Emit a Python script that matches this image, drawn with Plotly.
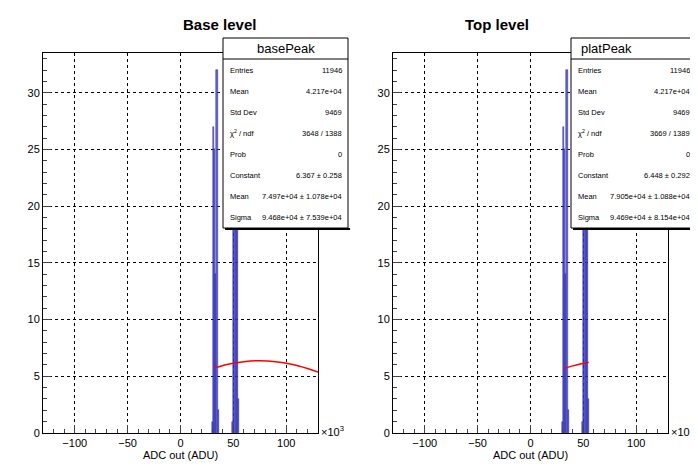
import plotly.graph_objects as go
from plotly.subplots import make_subplots

W, H = 698, 475

# histogram bins (bin centers in ADU, 1e3 wide) and counts
base_x = [30500, 31500, 32500, 33500, 34500, 35500, 49500, 50500, 51500, 52500, 53500, 54500]
base_y = [1, 27, 25, 14, 32, 2, 1, 22, 31, 28, 20, 3]
plat_x = [30500, 31500, 32500, 33500, 34500, 35500, 49500, 50500, 51500, 52500, 53500, 54500]
plat_y = [1, 27, 25, 14, 32, 2, 1, 24, 30, 27, 21, 3]

# gaussian fit curves
base_fit_x = [32000, 45000, 60000, 75000, 90000, 105000, 120000, 130000]
base_fit_y = [5.74, 6.06, 6.29, 6.37, 6.29, 6.06, 5.69, 5.38]
plat_fit_x = [32000, 40000, 48000, 55000]
plat_fit_y = [5.70, 5.92, 6.10, 6.24]

titles = ["<b>Base level</b>", "<b>Top level</b>"]
names = ["basePeak", "platPeak"]
labels = ["Entries", "Mean", "Std Dev", "χ<sup>2</sup> / ndf", "Prob", "Constant", "Mean", "Sigma"]
base_stats = ["11946", "4.217e+04", "9469", "3648 / 1388", "0", "6.367 ± 0.258",
              "7.497e+04 ± 1.078e+04", "9.468e+04 ± 7.539e+04"]
plat_stats = ["11946", "4.217e+04", "9469", "3669 / 1389", "0", "6.448 ± 0.292",
              "7.905e+04 ± 1.088e+04", "9.469e+04 ± 8.154e+04"]

xticks = [-100000, -50000, 0, 50000, 100000]
xtick_text = ["−100", "−50", "0", "50", "100"]

fig = make_subplots(rows=1, cols=2)
font = dict(family="Liberation Sans, Arial", color="black")

data = [(base_x, base_y, base_fit_x, base_fit_y, base_stats),
        (plat_x, plat_y, plat_fit_x, plat_fit_y, plat_stats)]
doms = [(35 / W, 310 / W), (385 / W, 660 / W)]
boxes = [(215, 340), (563, 688)]

for i, (hx, hy, fx, fy, st) in enumerate(data):
    c = i + 1
    fig.add_trace(go.Bar(x=hx, y=hy, width=1000, marker=dict(color="rgba(70,70,200,0.85)",
                         line=dict(color="rgb(40,40,170)", width=0.5))), row=1, col=c)
    fig.add_trace(go.Scatter(x=fx, y=fy, mode="lines", line=dict(color="red", width=1.5, shape="spline")),
                  row=1, col=c)
    fig.update_xaxes(domain=list(doms[i]), range=[-130000, 130000], tickvals=xticks, ticktext=xtick_text,
                     ticks="inside", ticklen=8, minor=dict(ticks="inside", ticklen=4, dtick=10000),
                     showgrid=True, gridcolor="black", griddash="dot", gridwidth=0.7,
                     showline=True, linecolor="black", mirror=True, zeroline=False, automargin=False,
                     title=dict(text="ADC out (ADU)", font=dict(size=11, **font), standoff=2),
                     tickfont=dict(size=11, **font), row=1, col=c)
    fig.update_yaxes(domain=[1 - 425 / H, 1 - 45 / H], range=[0, 33.5], dtick=5,
                     ticks="inside", ticklen=8, minor=dict(ticks="inside", ticklen=4, dtick=1),
                     showgrid=True, gridcolor="black", griddash="dot", gridwidth=0.7,
                     showline=True, linecolor="black", mirror=True, zeroline=False, automargin=False,
                     tickfont=dict(size=11, **font), row=1, col=c)
    x0, x1 = doms[i]
    fig.add_annotation(x=(x0 + x1) / 2, y=1 - 17 / H, xref="paper", yref="paper", text=titles[i],
                       showarrow=False, yanchor="middle", font=dict(size=15, **font))
    fig.add_annotation(x=x1 + 1 / W, y=1 - 423 / H, xref="paper", yref="paper", text="×10<sup>3</sup>",
                       showarrow=False, xanchor="left", yanchor="middle", font=dict(size=11, **font))
    bx0, bx1 = boxes[i]
    fig.add_shape(type="rect", xref="paper", yref="paper", x0=bx0 / W, x1=bx1 / W,
                  y0=1 - 220 / H, y1=1 - 30 / H, fillcolor="white", line=dict(color="black", width=1),
                  layer="above")
    fig.add_shape(type="rect", xref="paper", yref="paper", x0=(bx0 + 2) / W, x1=(bx1 + 2) / W,
                  y0=1 - 222 / H, y1=1 - 220 / H, fillcolor="black", line=dict(width=0), layer="above")
    fig.add_shape(type="line", xref="paper", yref="paper", x0=bx0 / W, x1=bx1 / W,
                  y0=1 - 51 / H, y1=1 - 51 / H, line=dict(color="black", width=1), layer="above")
    fig.add_annotation(x=(bx0 + bx1) / 2 / W, y=1 - 40.5 / H, xref="paper", yref="paper", text=names[i],
                       showarrow=False, yanchor="middle", font=dict(size=13, **font))
    for k, (lab, val) in enumerate(zip(labels, st)):
        yy = 1 - (62 + k * 21.1) / H
        fig.add_annotation(x=(bx0 + 5) / W, y=yy, xref="paper", yref="paper", text=lab, showarrow=False,
                           xanchor="left", yanchor="middle", font=dict(size=7.5, **font))
        fig.add_annotation(x=(bx1 - 4) / W, y=yy, xref="paper", yref="paper", text=val, showarrow=False,
                           xanchor="right", yanchor="middle", font=dict(size=7.5, **font))

fig.update_layout(width=W, height=H, margin=dict(l=0, r=0, t=0, b=0), showlegend=False,
                  plot_bgcolor="white", paper_bgcolor="white", bargap=0)
fig.write_html("out.html")
